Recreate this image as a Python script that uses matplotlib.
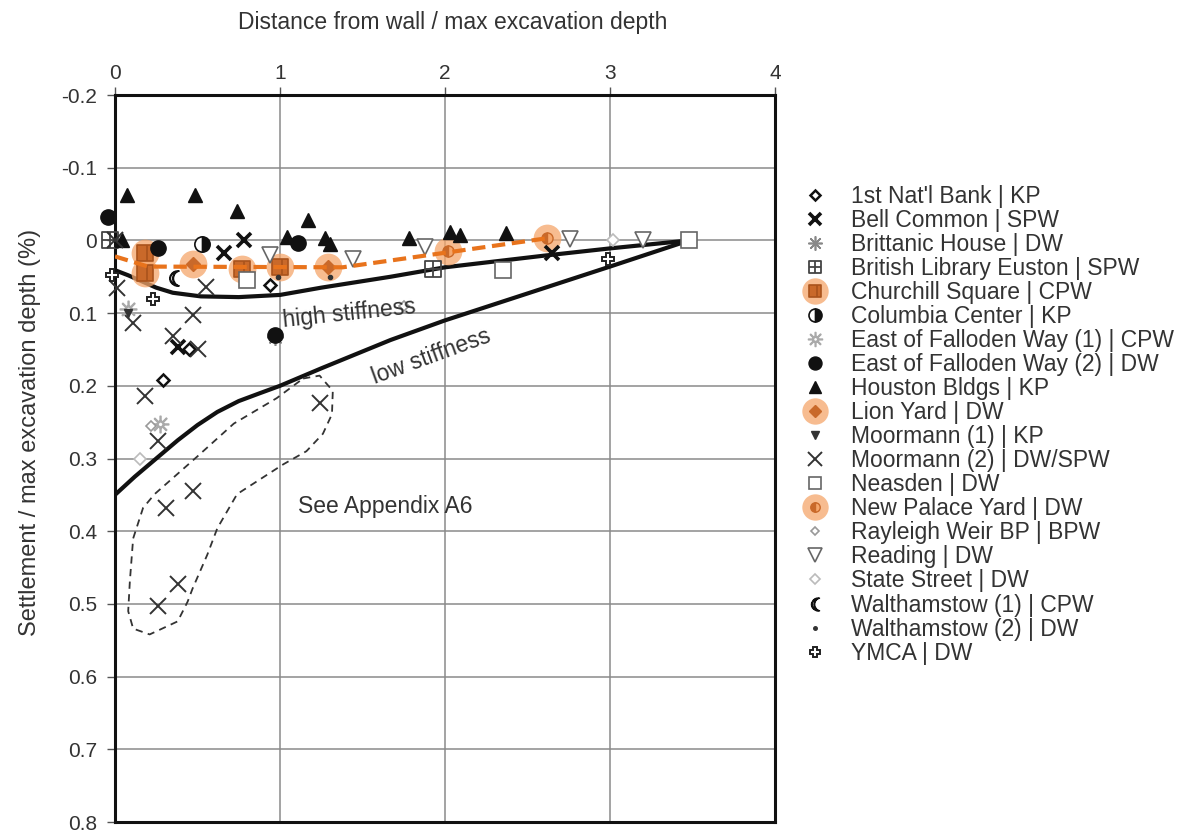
import matplotlib
matplotlib.use("Agg")
import matplotlib.pyplot as plt
from matplotlib.lines import Line2D
from matplotlib.path import Path
import numpy as np

plt.rcParams['font.family'] = ['Liberation Sans', 'DejaVu Sans']

# ---------------- data ----------------
houston_x = [0.07, 0.485, 0.74, 1.17, 1.04, 1.27, 0.04, 1.78, 2.03, 2.09, 2.37, 1.30]
houston_y = [-0.062, -0.062, -0.041, -0.028, -0.004, -0.003, 0.0, -0.003, -0.011, -0.007, -0.010, 0.005]

efw2_x = [-0.04, 0.26, 1.11, 0.97]
efw2_y = [-0.032, 0.010, 0.004, 0.130]

columbia_x = [0.53]
columbia_y = [0.005]

bell_x = [0.78, 0.66, 0.38, 2.65]
bell_y = [0.000, 0.018, 0.147, 0.018]

moor2_x = [0.01, 0.11, 0.47, 0.35, 0.50, 0.18, 0.26, 0.31, 0.47, 0.38, 0.26, 1.24, 0.55, 0.0]
moor2_y = [0.065, 0.113, 0.103, 0.131, 0.149, 0.214, 0.276, 0.368, 0.345, 0.472, 0.503, 0.223, 0.064, 0.0]

moor1_x = [0.08]
moor1_y = [0.100]

nat_x = [0.29, 0.94, 0.45]
nat_y = [0.192, 0.062, 0.149]

efw1_x = [0.08, 0.27]
efw1_y = [0.095, 0.253]

state_x = [0.15, 3.02]
state_y = [0.300, 0.000]

rayleigh_x = [1.75, 0.22]
rayleigh_y = [0.090, 0.255]

neasden_x = [2.35, 3.48, 0.80]
neasden_y = [0.041, 0.000, 0.055]

ble_x = [-0.03, 1.93]
ble_y = [0.000, 0.040]

ymca_x = [0.23, -0.02, 2.99]
ymca_y = [0.080, 0.048, 0.025]

reading_x = [0.94, 1.44, 1.88, 2.76, 3.20]
reading_y = [0.020, 0.025, 0.009, -0.002, 0.000]

walth1_x = [0.36]
walth1_y = [0.052]

walth2_x = [0.99, 1.30]
walth2_y = [0.050, 0.050]

britt_x = [0.97]
britt_y = [0.133]

churchill_x = [0.18, 0.18, 0.77, 1.00]
churchill_y = [0.018, 0.045, 0.040, 0.037]

lion_x = [0.47, 1.29]
lion_y = [0.032, 0.037]

npy_x = [2.02, 2.62]
npy_y = [0.015, -0.003]

# design curves
high_x = [0.0, 0.08, 0.15, 0.25, 0.35, 0.52, 0.75, 1.0, 1.25, 1.67, 2.0, 2.6, 3.0, 3.48]
high_y = [0.041, 0.048, 0.055, 0.065, 0.072, 0.077, 0.078, 0.075, 0.065, 0.050, 0.037, 0.021, 0.011, 0.0]

low_x = [0.0, 0.12, 0.25, 0.38, 0.5, 0.62, 0.75, 0.88, 1.0, 1.25, 1.67, 2.0, 2.5, 3.0, 3.48]
low_y = [0.35, 0.325, 0.300, 0.275, 0.254, 0.236, 0.221, 0.210, 0.200, 0.176, 0.137, 0.11, 0.073, 0.036, 0.0]

orange_x = [0.0, 0.2, 1.38, 2.62]
orange_y = [0.022, 0.036, 0.037, -0.003]

loop_x = [1.14, 1.24, 1.32, 1.315, 1.26, 1.16, 1.02, 0.74, 0.62, 0.56, 0.47, 0.44,
          0.38, 0.21, 0.11, 0.08, 0.09, 0.11, 0.17, 0.24, 0.35, 0.50, 0.72, 0.98, 1.14]
loop_y = [0.190, 0.186, 0.207, 0.239, 0.266, 0.290, 0.308, 0.349, 0.396, 0.432, 0.479, 0.497,
          0.524, 0.542, 0.534, 0.510, 0.469, 0.410, 0.368, 0.349, 0.327, 0.297, 0.252, 0.217, 0.190]

xticks = [0, 1, 2, 3, 4]
yticks = [-0.2, -0.1, 0, 0.1, 0.2, 0.3, 0.4, 0.5, 0.6, 0.7, 0.8]
ytick_labels = ['-0.2', '-0.1', '0', '0.1', '0.2', '0.3', '0.4', '0.5', '0.6', '0.7', '0.8']

# ---------------- figure ----------------
W, H = 1189, 832
fig = plt.figure(figsize=(W / 100, H / 100), dpi=100)
ax = fig.add_axes([115 / W, 1 - 822 / H, 660 / W, 727 / H])
ax.set_xlim(0, 4)
ax.set_ylim(0.8, -0.2)
ax.xaxis.tick_top()
ax.set_xticks(xticks)
ax.set_xticklabels([str(t) for t in xticks])
ax.set_yticks(yticks)
ax.set_yticklabels(ytick_labels)
ax.tick_params(axis='both', direction='out', length=6, width=1, color='#555555',
               labelsize=15, labelcolor='#333333', pad=7)
ax.tick_params(axis='x', pad=3)
ax.grid(True, color='#8a8a8a', lw=1.1)
ax.set_axisbelow(True)
for s in ax.spines.values():
    s.set_linewidth(2.2)
    s.set_color('#111111')

TXT = '#333333'
fig.text(453 / W, 1 - 22 / H, 'Distance from wall / max excavation depth', fontsize=16.5,
         color=TXT, ha='center', va='center')
fig.text(30 / W, 1 - 432 / H, 'Settlement / max excavation depth (%)', fontsize=17,
         color=TXT, ha='center', va='center', rotation=90)

# curves
ax.plot(high_x, high_y, color='#111111', lw=3, zorder=3, solid_joinstyle='round')
ax.plot(low_x, low_y, color='#111111', lw=3, zorder=3, solid_joinstyle='round')
ax.plot(loop_x, loop_y, color='#333333', lw=1.3, ls=(0, (4, 3)), zorder=3)

# marker paths
sq_cross = Path([(-1, -1), (1, -1), (1, 1), (-1, 1), (-1, -1), (0, -1), (0, 1), (-1, 0), (1, 0)],
                [Path.MOVETO, Path.LINETO, Path.LINETO, Path.LINETO, Path.CLOSEPOLY,
                 Path.MOVETO, Path.LINETO, Path.MOVETO, Path.LINETO])
sq_bar = Path([(-1, -1), (1, -1), (1, 1), (-1, 1), (-1, -1), (0.3, -1), (0.3, 1)],
              [Path.MOVETO, Path.LINETO, Path.LINETO, Path.LINETO, Path.CLOSEPOLY,
               Path.MOVETO, Path.LINETO])

HALO = '#f5a66b'
INNER = '#c9692a'

styles = {
    "1st Nat'l Bank | KP": dict(marker='D', ms=6, mfc='white', mec='#111111', mew=1.8, ls='none'),
    "Bell Common | SPW": dict(marker='x', ms=10, mec='#111111', mew=2.6, ls='none'),
    "Brittanic House | DW": dict(marker=(8, 2, 0), ms=12, mec='#888888', mew=1.2, ls='none'),
    "British Library Euston | SPW": dict(marker=sq_cross, ms=11, mfc='none', mec='#444444', mew=1.3, ls='none'),
    "Columbia Center | KP": dict(marker='o', ms=11, fillstyle='right', mfc='#111111', mfcalt='white',
                                 mec='#111111', mew=1.2, ls='none'),
    "East of Falloden Way (1) | CPW": dict(marker='$\u263c$', ms=12, mec='#aaaaaa', mfc='#aaaaaa', ls='none'),
    "East of Falloden Way (2) | DW": dict(marker='o', ms=11, mfc='#111111', mec='#111111', ls='none'),
    "Houston Bldgs | KP": dict(marker='^', ms=10, mfc='#111111', mec='#111111', ls='none'),
    "Moormann (1) | KP": dict(marker='v', ms=6, mfc='#333333', mec='#333333', ls='none'),
    "Moormann (2) | DW/SPW": dict(marker='x', ms=12, mec='#333333', mew=1.4, ls='none'),
    "Neasden | DW": dict(marker='s', ms=11, mfc='white', mec='#666666', mew=1.2, ls='none'),
    "Rayleigh Weir BP | BPW": dict(marker='D', ms=5, mfc='white', mec='#999999', mew=1.2, ls='none'),
    "Reading | DW": dict(marker='v', ms=12, mfc='white', mec='#666666', mew=1.2, ls='none'),
    "State Street | DW": dict(marker='D', ms=6, mfc='white', mec='#bbbbbb', mew=1.2, ls='none'),
    "Walthamstow (1) | CPW": dict(marker='$\u263e$', ms=11, mec='#111111', mfc='#111111', ls='none'),
    "Walthamstow (2) | DW": dict(marker='o', ms=3, mfc='#333333', mec='#333333', ls='none'),
    "YMCA | DW": dict(marker='P', ms=9, mfc='white', mec='#222222', mew=1.4, ls='none'),
}
halo_style = dict(marker='o', ms=20, mfc=HALO, mec='none', alpha=0.75, ls='none')
inner_styles = {
    "Churchill Square | CPW": dict(marker=sq_bar, ms=11, mfc=INNER, mec='#a9531c', mew=1.2, ls='none'),
    "Lion Yard | DW": dict(marker='D', ms=7, mfc=INNER, mec=INNER, ls='none'),
    "New Palace Yard | DW": dict(marker='o', ms=8, fillstyle='left', mfc=INNER, mfcalt=HALO,
                                 mec=INNER, mew=1.0, ls='none'),
}

series = {
    "1st Nat'l Bank | KP": (nat_x, nat_y),
    "Bell Common | SPW": (bell_x, bell_y),
    "Brittanic House | DW": (britt_x, britt_y),
    "British Library Euston | SPW": (ble_x, ble_y),
    "Churchill Square | CPW": (churchill_x, churchill_y),
    "Columbia Center | KP": (columbia_x, columbia_y),
    "East of Falloden Way (1) | CPW": (efw1_x, efw1_y),
    "East of Falloden Way (2) | DW": (efw2_x, efw2_y),
    "Houston Bldgs | KP": (houston_x, houston_y),
    "Lion Yard | DW": (lion_x, lion_y),
    "Moormann (1) | KP": (moor1_x, moor1_y),
    "Moormann (2) | DW/SPW": (moor2_x, moor2_y),
    "Neasden | DW": (neasden_x, neasden_y),
    "New Palace Yard | DW": (npy_x, npy_y),
    "Rayleigh Weir BP | BPW": (rayleigh_x, rayleigh_y),
    "Reading | DW": (reading_x, reading_y),
    "State Street | DW": (state_x, state_y),
    "Walthamstow (1) | CPW": (walth1_x, walth1_y),
    "Walthamstow (2) | DW": (walth2_x, walth2_y),
    "YMCA | DW": (ymca_x, ymca_y),
}

handles, labels = [], []
for name, (xs, ys) in series.items():
    if name in inner_styles:
        ax.plot(xs, ys, zorder=4, clip_on=False, **halo_style)
        ax.plot(xs, ys, zorder=5, clip_on=False, **inner_styles[name])
        h1 = Line2D([], [], **dict(halo_style, ms=19))
        h2 = Line2D([], [], **dict(inner_styles[name], ms=inner_styles[name]['ms'] * 0.85))
        handles.append((h1, h2))
    else:
        ax.plot(xs, ys, zorder=6, clip_on=False, **styles[name])
        st = dict(styles[name])
        st['ms'] = st['ms'] * 0.85
        handles.append(Line2D([], [], **st))
    labels.append(name)

# orange dashed trend
ax.plot(orange_x, orange_y, color='#e8731c', lw=3, ls=(0, (3.2, 1.6)), zorder=7)

# annotations
ax.text(1.42, 0.101, 'high stiffness', fontsize=16.5, color=TXT, rotation=6,
        ha='center', va='center', zorder=8)
ax.text(1.92, 0.160, 'low stiffness', fontsize=16.5, color=TXT, rotation=20,
        ha='center', va='center', zorder=8)
ax.text(1.64, 0.366, 'See Appendix A6', fontsize=16.5, color=TXT,
        ha='center', va='center', zorder=8)

fig.legend(handles, labels, loc='upper left', bbox_to_anchor=(801 / W, 1 - 185 / H),
           frameon=False, fontsize=16.5, labelcolor=TXT, handlelength=1.2,
           handletextpad=0.98, labelspacing=0.045, borderpad=0, borderaxespad=0)

fig.savefig('out.png', dpi=100)
